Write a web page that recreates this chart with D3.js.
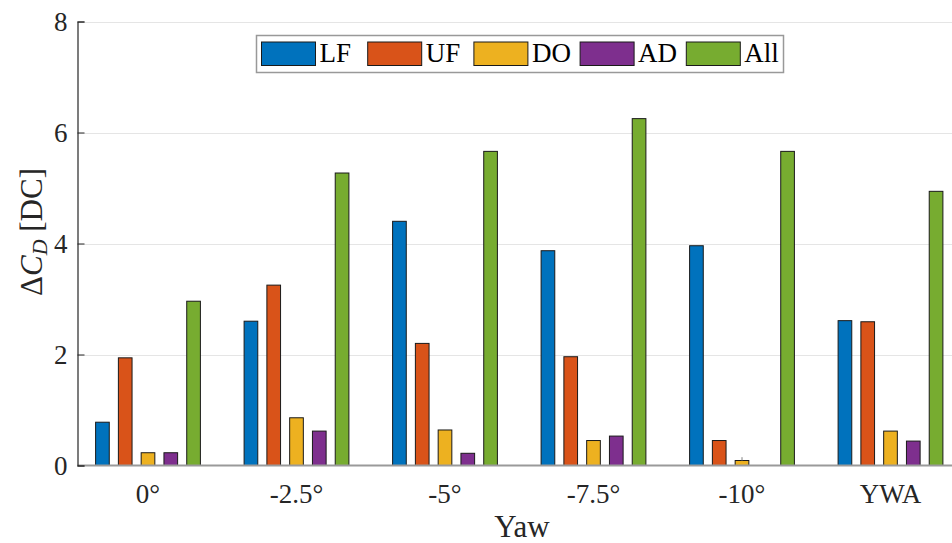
<!DOCTYPE html>
<html>
<head>
<meta charset="utf-8">
<script src="https://cdn.jsdelivr.net/npm/d3@7"></script>
<style>
    body { margin: 0; background: #fff; }
    svg text { font-family: "Liberation Serif", "DejaVu Serif", serif; fill: #262626; }
</style>
</head>
<body>
<div id="chart"></div>
<script>
// grouped bar chart, delta C_D per yaw angle

const yaws = ["0°", "-2.5°", "-5°", "-7.5°", "-10°", "YWA"];
const series = ["LF", "UF", "DO", "AD", "All"];
const colors = ["#0072BD", "#D95319", "#EDB120", "#7E2F8E", "#77AC30"];

const LF  = [0.78, 2.60, 4.40, 3.87, 3.96, 2.61];
const UF  = [1.94, 3.25, 2.20, 1.96, 0.45, 2.59];
const DO  = [0.23, 0.86, 0.64, 0.45, 0.09, 0.62];
const AD  = [0.23, 0.62, 0.22, 0.53, 0.00, 0.44];
const All = [2.96, 5.27, 5.66, 6.25, 5.66, 4.94];

// small whisker seen on the DO bar at -10°
const doErrTop = [null, null, null, null, 0.15, null];

const yTicks = [0, 2, 4, 6, 8];

class groupedBars {
    constructor(parentElement) {
        this.parentElement = parentElement;
        this.initVis();
    }

    initVis() {
        let vis = this;
        vis.width = 952;
        vis.height = 543;

        vis.svg = d3.select("#" + vis.parentElement).append("svg")
            .attr("width", vis.width)
            .attr("height", vis.height);

        vis.axisLeftX = 77.5;
        vis.y = d3.scaleLinear().domain([0, 8]).range([465.5, 21.5]);
        vis.x0 = d3.scalePoint().domain(yaws).range([148, 890.5]);
        vis.x1 = d3.scaleBand().domain(series).range([-52.4, 52.4]).paddingInner(0.4);

        vis.wrangleData();
    }

    wrangleData() {
        let vis = this;
        let vals = { LF: LF, UF: UF, DO: DO, AD: AD, All: All };
        vis.displayData = yaws.map(function (yaw, i) {
            return {
                yaw: yaw,
                bars: series.map(function (s, j) {
                    return { key: s, value: vals[s][i], color: colors[j] };
                }),
                err: doErrTop[i]
            };
        });
        vis.updateVis();
    }

    updateVis() {
        let vis = this;

        // gridlines
        vis.svg.append("g")
            .selectAll("line")
            .data(yTicks.filter(d => d > 0))
            .enter().append("line")
            .attr("x1", vis.axisLeftX)
            .attr("x2", vis.width)
            .attr("y1", d => Math.round(vis.y(d)) + 0.5)
            .attr("y2", d => Math.round(vis.y(d)) + 0.5)
            .attr("stroke", "#e5e5e5")
            .attr("stroke-width", 1);

        // bars
        let groups = vis.svg.append("g")
            .selectAll("g")
            .data(vis.displayData)
            .enter().append("g")
            .attr("transform", d => "translate(" + vis.x0(d.yaw) + ",0)");

        groups.selectAll("rect")
            .data(d => d.bars)
            .enter().append("rect")
            .attr("x", d => vis.x1(d.key))
            .attr("width", vis.x1.bandwidth())
            .attr("y", d => vis.y(d.value))
            .attr("height", d => vis.y(0) - vis.y(d.value))
            .attr("fill", d => d.color)
            .attr("stroke", "#1a1a1a")
            .attr("stroke-width", 1);

        groups.filter(d => d.err != null)
            .append("line")
            .attr("x1", vis.x1("DO") + vis.x1.bandwidth() / 2)
            .attr("x2", vis.x1("DO") + vis.x1.bandwidth() / 2)
            .attr("y1", d => vis.y(d.bars[2].value))
            .attr("y2", d => vis.y(d.err))
            .attr("stroke", "#808080")
            .attr("stroke-width", 1);

        // x baseline
        vis.svg.append("line")
            .attr("x1", vis.axisLeftX)
            .attr("x2", vis.width)
            .attr("y1", vis.y(0))
            .attr("y2", vis.y(0))
            .attr("stroke", "#9a9a9a")
            .attr("stroke-width", 2);

        // y axis (ticks only, labels drawn as plain text below)
        vis.yAxis = d3.axisLeft(vis.y)
            .tickValues(yTicks)
            .tickSize(-7)
            .tickFormat("");

        let yg = vis.svg.append("g")
            .attr("class", "y-axis axis")
            .attr("transform", "translate(" + vis.axisLeftX + ",0)")
            .call(vis.yAxis);
        yg.select(".domain").attr("stroke", "#262626").attr("stroke-width", 1.2);
        yg.selectAll(".tick line").attr("stroke", "#262626");

        // serif text below ~27px loses its serifs in this renderer
        vis.svg.append("g")
            .selectAll("text")
            .data(yTicks)
            .enter().append("text")
            .attr("x", vis.axisLeftX - 10)
            .attr("y", d => vis.y(d))
            .attr("dy", "0.34em")
            .attr("text-anchor", "end")
            .attr("font-size", 27)
            .text(d => d);

        // x tick labels
        vis.svg.append("g")
            .selectAll("text")
            .data(yaws)
            .enter().append("text")
            .attr("x", d => vis.x0(d))
            .attr("y", vis.y(0) + 37)
            .attr("text-anchor", "middle")
            .attr("font-size", 27)
            .text(d => d);

        // axis labels
        vis.svg.append("text")
            .attr("x", 522)
            .attr("y", 537)
            .attr("text-anchor", "middle")
            .attr("font-size", 31)
            .text("Yaw");

        let yl = vis.svg.append("text")
            .attr("transform", "translate(42,232) rotate(-90)")
            .attr("text-anchor", "middle")
            .attr("font-size", 31);
        yl.append("tspan").text("Δ");
        yl.append("tspan").attr("font-style", "italic").text("C");
        yl.append("tspan").attr("font-style", "italic").attr("font-size", 22).attr("dy", 5).text("D");
        yl.append("tspan").attr("dy", -5).text(" [DC]");

        // legend
        let leg = vis.svg.append("g").attr("class", "legend");
        leg.append("rect")
            .attr("x", 256.5).attr("y", 35.5)
            .attr("width", 527).attr("height", 37)
            .attr("fill", "#fff")
            .attr("stroke", "#999")
            .attr("stroke-width", 1.5);

        let items = leg.selectAll("g.item")
            .data(series)
            .enter().append("g")
            .attr("class", "item")
            .attr("transform", (d, i) => "translate(" + (261.5 + i * 106.2) + ",0)");
        items.append("rect")
            .attr("x", 0).attr("y", 42)
            .attr("width", 54).attr("height", 23.5)
            .attr("fill", (d, i) => colors[i])
            .attr("stroke", "#1a1a1a")
            .attr("stroke-width", 1);
        items.append("text")
            .attr("x", 58)
            .attr("y", 62)
            .attr("font-size", 27)
            .style("fill", "#000")
            .text(d => d);
    }
}

let chart = new groupedBars("chart");
</script>
</body>
</html>
